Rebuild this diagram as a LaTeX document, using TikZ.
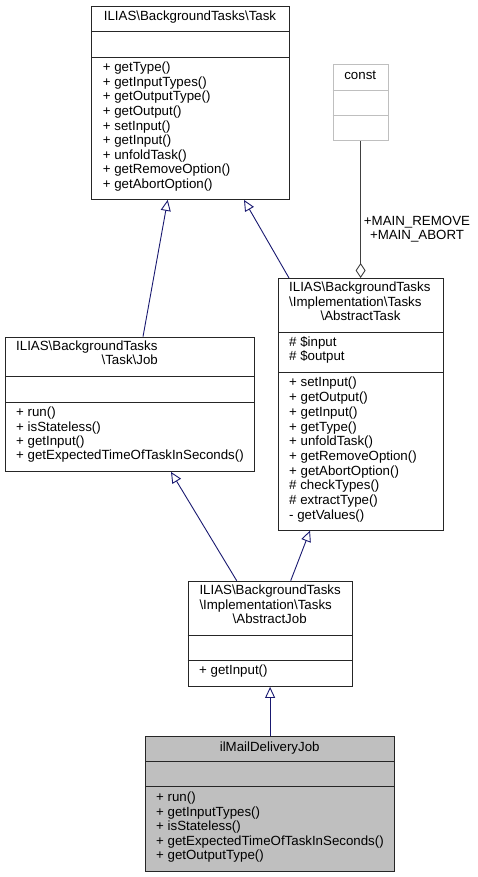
\documentclass[tikz,border=0pt]{standalone}
\usepackage{fontspec}
\setmainfont{Liberation Sans}
\usetikzlibrary{arrows.meta}
\definecolor{navy}{HTML}{191970}
\definecolor{boxgray}{HTML}{BFBFBF}
\definecolor{edgegray}{HTML}{404040}
\begin{document}
\begin{tikzpicture}[x=1pt,y=-1pt,
  txt/.style={inner sep=0pt, anchor=mid west, font=\fontsize{13.3}{14.6}\selectfont},
  ctr/.style={txt, anchor=mid},
  box/.style={draw=black!85, line width=0.9pt, fill=white, inner sep=0pt, anchor=north west},
  sep/.style={draw=black!85, line width=0.9pt},
  inh/.style={draw=navy, line width=0.9pt, -{Triangle[open, length=11pt, width=10pt, fill=white]}},
  agg/.style={draw=edgegray, line width=0.9pt, -{Diamond[open, length=15pt, width=10pt, fill=white]}}]
\useasboundingbox (0,0) rectangle (478,877);

% Task
\node[box, minimum width=198pt, minimum height=193pt] (task) at (91,6) {};
\draw[sep] (91,31) -- (289,31);
\draw[sep] (91,57) -- (289,57);
\node[ctr] (tasktitle) at (190,18) {ILIAS\textbackslash BackgroundTasks\textbackslash Task};
\foreach \t [count=\i from 0] in {+ getType(), + getInputTypes(), + getOutputType(), + getOutput(), + setInput(), + getInput(), + unfoldTask(), + getRemoveOption(), + getAbortOption()}
  \node[txt] at (102.7,{69+\i*14.6}) {\t};

% const
\node[box, draw=boxgray, minimum width=55pt, minimum height=76pt] (const) at (332.7,64.3) {};
\draw[sep, draw=boxgray] (332.7,90) -- (387.7,90);
\draw[sep, draw=boxgray] (332.7,115.7) -- (387.7,115.7);
\node[ctr] (consttitle) at (360.2,76.7) {const};

% AbstractTask
\node[box, minimum width=164.4pt, minimum height=251.7pt] (atask) at (278.3,278) {};
\draw[sep] (278.3,332.3) -- (442.7,332.3);
\draw[sep] (278.3,372.7) -- (442.7,372.7);
\node[txt] (at1) at (289,289.3) {ILIAS\textbackslash BackgroundTasks};
\node[txt] (at2) at (289,304.3) {\textbackslash Implementation\textbackslash Tasks};
\node[ctr] (at3) at (360.5,318.3) {\textbackslash AbstractTask};
\node[txt] (ata1) at (289,344.3) {\# \$input};
\node[txt] (ata2) at (289,358.3) {\# \$output};
\foreach \t [count=\i from 0] in {+ setInput(), + getOutput(), + getInput(), + getType(), + unfoldTask(), + getRemoveOption(), + getAbortOption(), \# checkTypes(), \# extractType(), - getValues()}
  \node[txt] at (289,{384.3+\i*14.7}) {\t};

% Job
\node[box, minimum width=249.3pt, minimum height=134.3pt] (job) at (5,336.7) {};
\draw[sep] (5,376.7) -- (254.3,376.7);
\draw[sep] (5,402) -- (254.3,402);
\node[txt] (j1) at (16,348.3) {ILIAS\textbackslash BackgroundTasks};
\node[ctr] (j2) at (129.7,362.3) {\textbackslash Task\textbackslash Job};
\foreach \t [count=\i from 0] in {+ run(), + isStateless(), + getInput(), + getExpectedTimeOfTaskInSeconds()}
  \node[txt] at (16,{414+\i*14.4}) {\t};

% AbstractJob
\node[box, minimum width=164pt, minimum height=105.3pt] (ajob) at (187.7,580.7) {};
\draw[sep] (187.7,635.7) -- (351.7,635.7);
\draw[sep] (187.7,660.3) -- (351.7,660.3);
\node[txt] (aj1) at (199.3,592.3) {ILIAS\textbackslash BackgroundTasks};
\node[txt] (aj2) at (199.3,606.7) {\textbackslash Implementation\textbackslash Tasks};
\node[ctr] (aj3) at (269.7,621.3) {\textbackslash AbstractJob};
\node[txt] (ajm1) at (199,672.3) {+ getInput()};

% ilMailDeliveryJob
\node[box, fill=boxgray, minimum width=249.3pt, minimum height=134.7pt] (mail) at (145,736.3) {};
\draw[sep] (145,761.7) -- (394.3,761.7);
\draw[sep] (145,786.7) -- (394.3,786.7);
\node[ctr] (mailtitle) at (269.7,749) {ilMailDeliveryJob};
\foreach \t [count=\i from 0] in {+ run(), + getInputTypes(), + isStateless(), + getExpectedTimeOfTaskInSeconds(), + getOutputType()}
  \node[txt] at (156,{799+\i*14.5}) {\t};

% connectors
\draw[inh] (143,0 |- job.north) -- (167.7,0 |- task.south);
\draw[inh] (289,0 |- atask.north) -- (244,0 |- task.south);
\draw[inh] (236.7,0 |- ajob.north) -- (171,0 |- job.south);
\draw[inh] (290.7,0 |- ajob.north) -- (310,0 |- atask.south);
\draw[inh] (mail.north) -- (mail.north |- ajob.south);
\draw[agg] (const.south) -- (const.south |- atask.north);
\node[ctr, align=center] (lbl) at (417,237) {+MAIN\_REMOVE\\+MAIN\_ABORT};
\end{tikzpicture}
\end{document}
